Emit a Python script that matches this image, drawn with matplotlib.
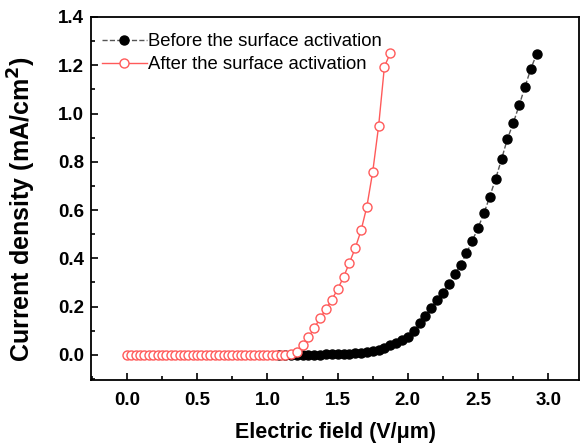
import matplotlib
matplotlib.use('Agg')
import matplotlib.pyplot as plt
from matplotlib.ticker import MultipleLocator

plt.rcParams['font.family'] = ['Liberation Sans', 'DejaVu Sans']

# Electric field (V/um) and current density (mA/cm2)

before_field = [1.083, 1.125, 1.167, 1.208, 1.250, 1.292, 1.333, 1.375, 1.417, 1.458,
                1.500, 1.542, 1.583, 1.625, 1.667, 1.708, 1.750, 1.792, 1.833, 1.875,
                1.917, 1.958, 2.000, 2.042, 2.083, 2.125, 2.167, 2.208, 2.250, 2.292,
                2.333, 2.375, 2.417, 2.458, 2.500, 2.542, 2.583, 2.625, 2.667, 2.708,
                2.750, 2.792, 2.833, 2.875, 2.917]
before_current = [0.000, 0.000, 0.000, 0.000, 0.000, 0.001, 0.001, 0.001, 0.002, 0.002,
                  0.003, 0.004, 0.005, 0.007, 0.009, 0.012, 0.016, 0.021, 0.028, 0.039,
                  0.048, 0.062, 0.076, 0.101, 0.131, 0.162, 0.196, 0.228, 0.258, 0.293,
                  0.334, 0.373, 0.421, 0.472, 0.527, 0.587, 0.656, 0.730, 0.811, 0.894,
                  0.960, 1.034, 1.109, 1.185, 1.247]

after_field = [0.000, 0.031, 0.063, 0.094, 0.125, 0.156, 0.188, 0.219, 0.250, 0.281,
               0.313, 0.344, 0.375, 0.406, 0.438, 0.469, 0.500, 0.531, 0.563, 0.594,
               0.625, 0.656, 0.688, 0.719, 0.750, 0.781, 0.813, 0.844, 0.875, 0.906,
               0.938, 0.969, 1.000, 1.031, 1.063, 1.094, 1.125, 1.167, 1.208, 1.250,
               1.292, 1.333, 1.375, 1.417, 1.458, 1.500, 1.542, 1.583, 1.625, 1.667,
               1.708, 1.750, 1.792, 1.833, 1.875]
after_current = [0.000, 0.000, 0.000, 0.000, 0.000, 0.000, 0.000, 0.000, 0.000, 0.000,
                 0.000, 0.000, 0.000, 0.000, 0.000, 0.000, 0.000, 0.000, 0.000, 0.000,
                 0.000, 0.000, 0.000, 0.000, 0.000, 0.000, 0.000, 0.000, 0.000, 0.000,
                 0.000, 0.000, 0.000, 0.000, 0.000, 0.000, 0.001, 0.004, 0.014, 0.039,
                 0.073, 0.110, 0.152, 0.189, 0.228, 0.272, 0.322, 0.380, 0.442, 0.516,
                 0.614, 0.759, 0.949, 1.194, 1.250]

fig = plt.figure(figsize=(5.81, 4.46), dpi=100)
ax = fig.add_axes([0.157, 0.148, 0.84, 0.814])

ax.plot(before_field, before_current, color='#555555', linestyle='--', linewidth=1,
        marker='o', markersize=6.5, markerfacecolor='black', markeredgecolor='black',
        label='Before the surface activation', zorder=2)
ax.plot(after_field, after_current, color='#ff5a5a', linestyle='-', linewidth=1,
        marker='o', markersize=6.5, markerfacecolor='white', markeredgecolor='#ff5a5a',
        markeredgewidth=1, label='After the surface activation', zorder=3)

ax.set_xlim(-0.254, 3.22)
ax.set_ylim(-0.104, 1.4)
ax.xaxis.set_major_locator(MultipleLocator(0.5))
ax.xaxis.set_minor_locator(MultipleLocator(0.25))
ax.yaxis.set_major_locator(MultipleLocator(0.2))
ax.yaxis.set_minor_locator(MultipleLocator(0.1))
ax.tick_params(which='both', direction='in', top=False, right=False, width=1.2,
               labelsize=13.5)
ax.tick_params(axis='x', pad=9)
ax.tick_params(axis='y', pad=5)
ax.tick_params(which='major', length=5)
ax.tick_params(which='minor', length=3)
for lbl in ax.get_xticklabels() + ax.get_yticklabels():
    lbl.set_fontweight('bold')
for sp in ax.spines.values():
    sp.set_linewidth(1.3)

ax.set_xlabel('Electric field (V/\u03bcm)', fontsize=15.5, fontweight='bold', labelpad=9)
ax.set_ylabel('Current density (mA/cm$^\\mathbf{2}$)', fontsize=18, fontweight='bold')
ax.yaxis.set_label_coords(-0.11, 0.47)

ax.legend(loc='upper left', frameon=False, fontsize=13.3, handlelength=2.4,
          handletextpad=0.1, borderaxespad=0.2, labelspacing=0.3,
          bbox_to_anchor=(0.0, 0.985))

fig.savefig('out.png', dpi=100)
